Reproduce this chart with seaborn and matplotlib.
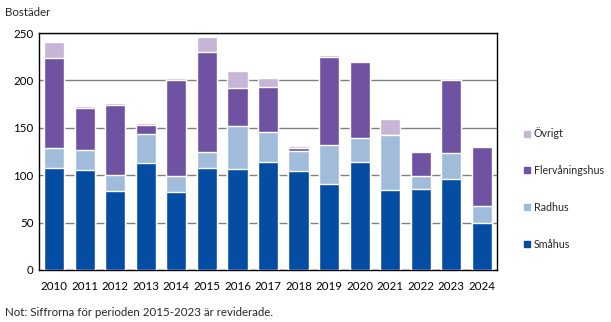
import matplotlib
matplotlib.use("Agg")
import matplotlib.pyplot as plt
from matplotlib.lines import Line2D
import seaborn as sns
import numpy as np
import pandas as pd

years = ["2010", "2011", "2012", "2013", "2014", "2015", "2016", "2017",
         "2018", "2019", "2020", "2021", "2022", "2023", "2024"]
smahus = [108, 105, 83, 113, 82, 108, 107, 114, 104, 91, 114, 84, 85, 96, 50]
radhus = [21, 22, 17, 30, 17, 16, 45, 32, 22, 41, 25, 58, 14, 27, 18]
flervaningshus = [95, 44, 74, 10, 101, 106, 40, 47, 3, 93, 80, 0, 26, 77, 62]
ovrigt = [16, 2, 2, 2, 3, 16, 18, 10, 2, 2, 0, 17, 0, 0, 0]

series = ["Småhus", "Radhus", "Flervåningshus", "Övrigt"]
colors = {"Småhus": "#044DA3", "Radhus": "#A1BBDA",
          "Flervåningshus": "#6F52A1", "Övrigt": "#C6B5D7"}

sns.set_theme(style="white")
plt.rcParams["font.family"] = ["Lato", "DejaVu Sans"]

df = pd.DataFrame({"År": years, "Småhus": smahus, "Radhus": radhus,
                   "Flervåningshus": flervaningshus, "Övrigt": ovrigt})
cum = df[series].cumsum(axis=1)

fig = plt.figure(figsize=(6.11, 3.22), dpi=100)
ax = fig.add_axes([39/611, 52/322, 458/611, 237/322])

for s in reversed(series):
    sns.barplot(x=df["År"], y=cum[s], color=colors[s], ax=ax, width=0.66,
                edgecolor="white", linewidth=1.0, saturation=1, zorder=3)

ax.set_ylim(0, 250)
ax.set_yticks([0, 50, 100, 150, 200, 250])
ax.yaxis.grid(True, color="#808080", linewidth=1.0, zorder=0)
ax.set_axisbelow(True)
for sp in ax.spines.values():
    sp.set_visible(True)
    sp.set_color("black")
    sp.set_linewidth(1.0)
ax.set_xlabel("")
ax.set_ylabel("")
ax.tick_params(axis="both", labelsize=8.3, length=0, pad=4, colors="black")
ax.tick_params(axis="x", pad=8)

handles = [Line2D([0], [0], marker="s", linestyle="none", markersize=5,
                  markerfacecolor=colors[s], markeredgecolor=colors[s])
           for s in reversed(series)]
fig.legend(handles, list(reversed(series)), loc="upper left",
           bbox_to_anchor=(518/611, 1 - 122/322), frameon=False,
           fontsize=7.7, labelspacing=2.42, handlelength=0.6,
           handletextpad=0.35, borderpad=0)

fig.text(5/611, 1 - 12/322, "Bostäder", fontsize=8.3, va="center", ha="left")
fig.text(5/611, 1 - 312/322, "Not: Siffrorna för perioden 2015-2023 är reviderade.",
         fontsize=8.3, va="center", ha="left")

fig.savefig("out.png", dpi=100)
